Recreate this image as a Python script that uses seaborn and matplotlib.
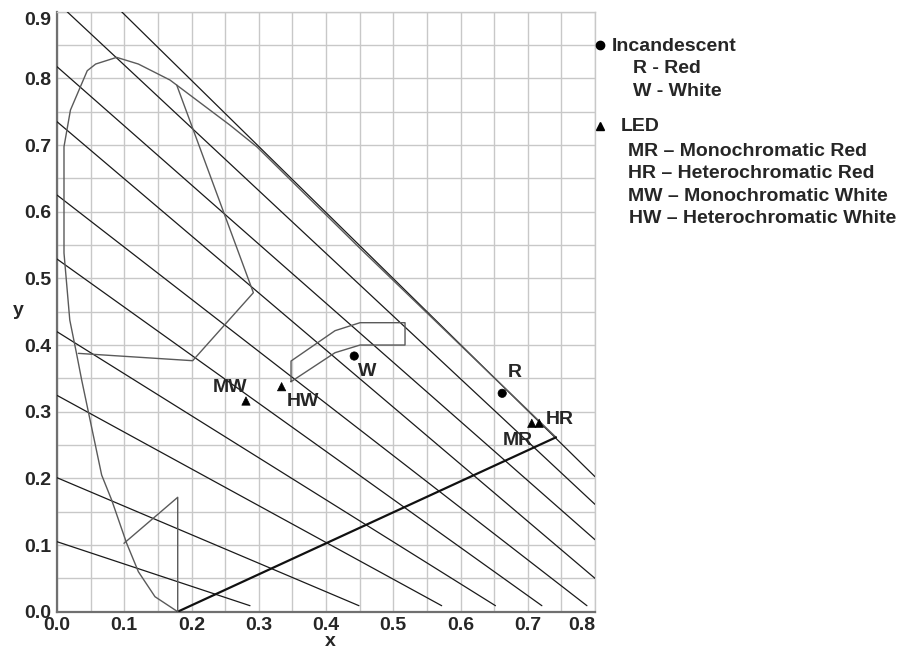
import numpy as np
import pandas as pd
import matplotlib
matplotlib.use("Agg")
import matplotlib.pyplot as plt
import seaborn as sns

# ---------------- data ----------------
# iso-lines (start / end points)
iso_x0 = [0.096, 0.015, 0.0, 0.0, 0.0, 0.0, 0.0, 0.0, 0.0, 0.0]
iso_y0 = [0.9, 0.9, 0.8175, 0.735, 0.625, 0.529, 0.42, 0.3245, 0.201, 0.105]
iso_x1 = [0.8, 0.8, 0.8, 0.8, 0.788, 0.721, 0.652, 0.572, 0.449, 0.287]
iso_y1 = [0.2025, 0.161, 0.108, 0.05, 0.009, 0.009, 0.009, 0.009, 0.009, 0.009]

# spectral locus
locus_x = [0.1795, 0.1457, 0.121, 0.1036, 0.0813, 0.0664, 0.0466, 0.0367, 0.029,
           0.019, 0.0104, 0.0104, 0.020, 0.045, 0.0575, 0.0887, 0.121, 0.168,
           0.257, 0.297, 0.4506, 0.742]
locus_y = [0.0, 0.0225, 0.06, 0.1026, 0.1675, 0.205, 0.30, 0.3475, 0.3875,
           0.4375, 0.538, 0.6975, 0.7525, 0.8115, 0.8215, 0.8315, 0.8215, 0.7975,
           0.730, 0.6975, 0.545, 0.2616]

# line of purples
purple_x = [0.1795, 0.742]
purple_y = [0.0, 0.2616]

# region outlines
green_x = [0.178, 0.292, 0.2017, 0.0317]
green_y = [0.79, 0.4785, 0.3765, 0.3875]
blue_x = [0.0996, 0.1795, 0.1795]
blue_y = [0.1026, 0.1716, 0.0]
white_x = [0.348, 0.348, 0.4134, 0.4506, 0.5175, 0.5175, 0.4506, 0.4134, 0.348]
white_y = [0.345, 0.376, 0.4215, 0.4335, 0.4335, 0.40, 0.40, 0.3885, 0.345]

# measured sources
pt_names = ["R", "W", "MR", "HR", "MW", "HW"]
pt_kind = ["Incandescent", "Incandescent", "LED", "LED", "LED", "LED"]
pt_x = [0.662, 0.442, 0.706, 0.717, 0.281, 0.334]
pt_y = [0.3276, 0.3835, 0.2826, 0.2826, 0.316, 0.3375]

x_ticks = [0.0, 0.1, 0.2, 0.3, 0.4, 0.5, 0.6, 0.7, 0.8]
y_ticks = [0.0, 0.1, 0.2, 0.3, 0.4, 0.5, 0.6, 0.7, 0.8, 0.9]

legend_lines = [
    ("Incandescent", 612, 46.5),
    ("R - Red", 633, 68.5),
    ("W - White", 633, 91.5),
    ("LED", 620.5, 126.5),
    ("MR \u2013 Monochromatic Red", 628, 151.5),
    ("HR \u2013 Heterochromatic Red", 628, 174),
    ("MW \u2013 Monochromatic White", 628, 196.5),
    ("HW \u2013 Heterochromatic White", 629, 218.5),
]

# ---------------- plot ----------------
sns.set_theme(style="white")
plt.rcParams["font.family"] = ["Liberation Sans", "DejaVu Sans"]
plt.rcParams["font.weight"] = "bold"

FS = 14
W, H = 911, 650
fig = plt.figure(figsize=(W / 100, H / 100), dpi=100)
ax = fig.add_axes([57 / W, 38.3 / H, 538 / W, 600 / H])
ax.set_xlim(0, 0.8)
ax.set_ylim(0, 0.9)

ax.set_xticks(x_ticks)
ax.set_yticks(y_ticks)
ax.set_xticks(np.arange(0.05, 0.8, 0.1), minor=True)
ax.set_yticks(np.arange(0.05, 0.9, 0.1), minor=True)
ax.grid(which="both", color="#c8c8c8", lw=1.0)
ax.set_axisbelow(True)
ax.tick_params(which="both", length=0)
ax.tick_params(axis="x", pad=4)
ax.tick_params(axis="y", pad=4)
ax.set_xticklabels([f"{v:.1f}" for v in x_ticks], fontsize=FS, fontweight="bold")
ax.set_yticklabels([f"{v:.1f}" for v in y_ticks], fontsize=FS, fontweight="bold")
ax.get_xticklabels()[-1].set_ha("right")
ax.get_yticklabels()[-1].set_va("top")

for side in ["top", "right"]:
    ax.spines[side].set_color("#c8c8c8")
    ax.spines[side].set_linewidth(1.0)
for side in ["left", "bottom"]:
    ax.spines[side].set_color("#707070")
    ax.spines[side].set_linewidth(1.6)

# iso-lines
for x0, y0, x1, y1 in zip(iso_x0, iso_y0, iso_x1, iso_y1):
    ax.plot([x0, x1], [y0, y1], color="#1a1a1a", lw=0.9, zorder=3)

# locus and regions
ax.plot(locus_x, locus_y, color="#5a5a5a", lw=1.0, zorder=3)
ax.plot(purple_x, purple_y, color="#111111", lw=1.6, zorder=3)
ax.plot(green_x, green_y, color="#5a5a5a", lw=1.0, zorder=3)
ax.plot(blue_x, blue_y, color="#5a5a5a", lw=1.0, zorder=3)
ax.plot(white_x, white_y, color="#5a5a5a", lw=1.0, zorder=3)

df = pd.DataFrame({"name": pt_names, "kind": pt_kind, "x": pt_x, "y": pt_y})
sns.scatterplot(data=df, x="x", y="y", style="kind",
                markers={"Incandescent": "o", "LED": "^"},
                color="black", edgecolor="black", s=36, legend=False,
                ax=ax, zorder=5, clip_on=False)
ax.set_xlabel("")
ax.set_ylabel("")

label_pos = {
    "R": (0.681, 0.359, "center"),
    "W": (0.4605, 0.36, "center"),
    "MR": (0.6855, 0.2575, "center"),
    "HR": (0.727, 0.2886, "left"),
    "MW": (0.257, 0.336, "center"),
    "HW": (0.366, 0.315, "center"),
}
for nm in pt_names:
    lx, ly, ha = label_pos[nm]
    ax.text(lx, ly, nm, fontsize=FS, fontweight="bold", ha=ha, va="center", zorder=6)

# axis labels
fig.text(18 / W, 1 - 310 / H, "y", fontsize=FS, fontweight="bold", ha="center", va="center")
fig.text(330 / W, 1 - 650 / H, "x", fontsize=FS, fontweight="bold", ha="center", va="bottom")

# custom legend
fig.lines.append(plt.Line2D([600 / W], [1 - 45 / H], marker="o", ms=6, color="black",
                            transform=fig.transFigure, ls="none"))
fig.lines.append(plt.Line2D([600 / W], [1 - 126 / H], marker="^", ms=6, color="black",
                            transform=fig.transFigure, ls="none"))
for txt, px, py in legend_lines:
    fig.text(px / W, 1 - py / H, txt, fontsize=FS, fontweight="bold", ha="left", va="center")

fig.savefig("out.png", dpi=100)
